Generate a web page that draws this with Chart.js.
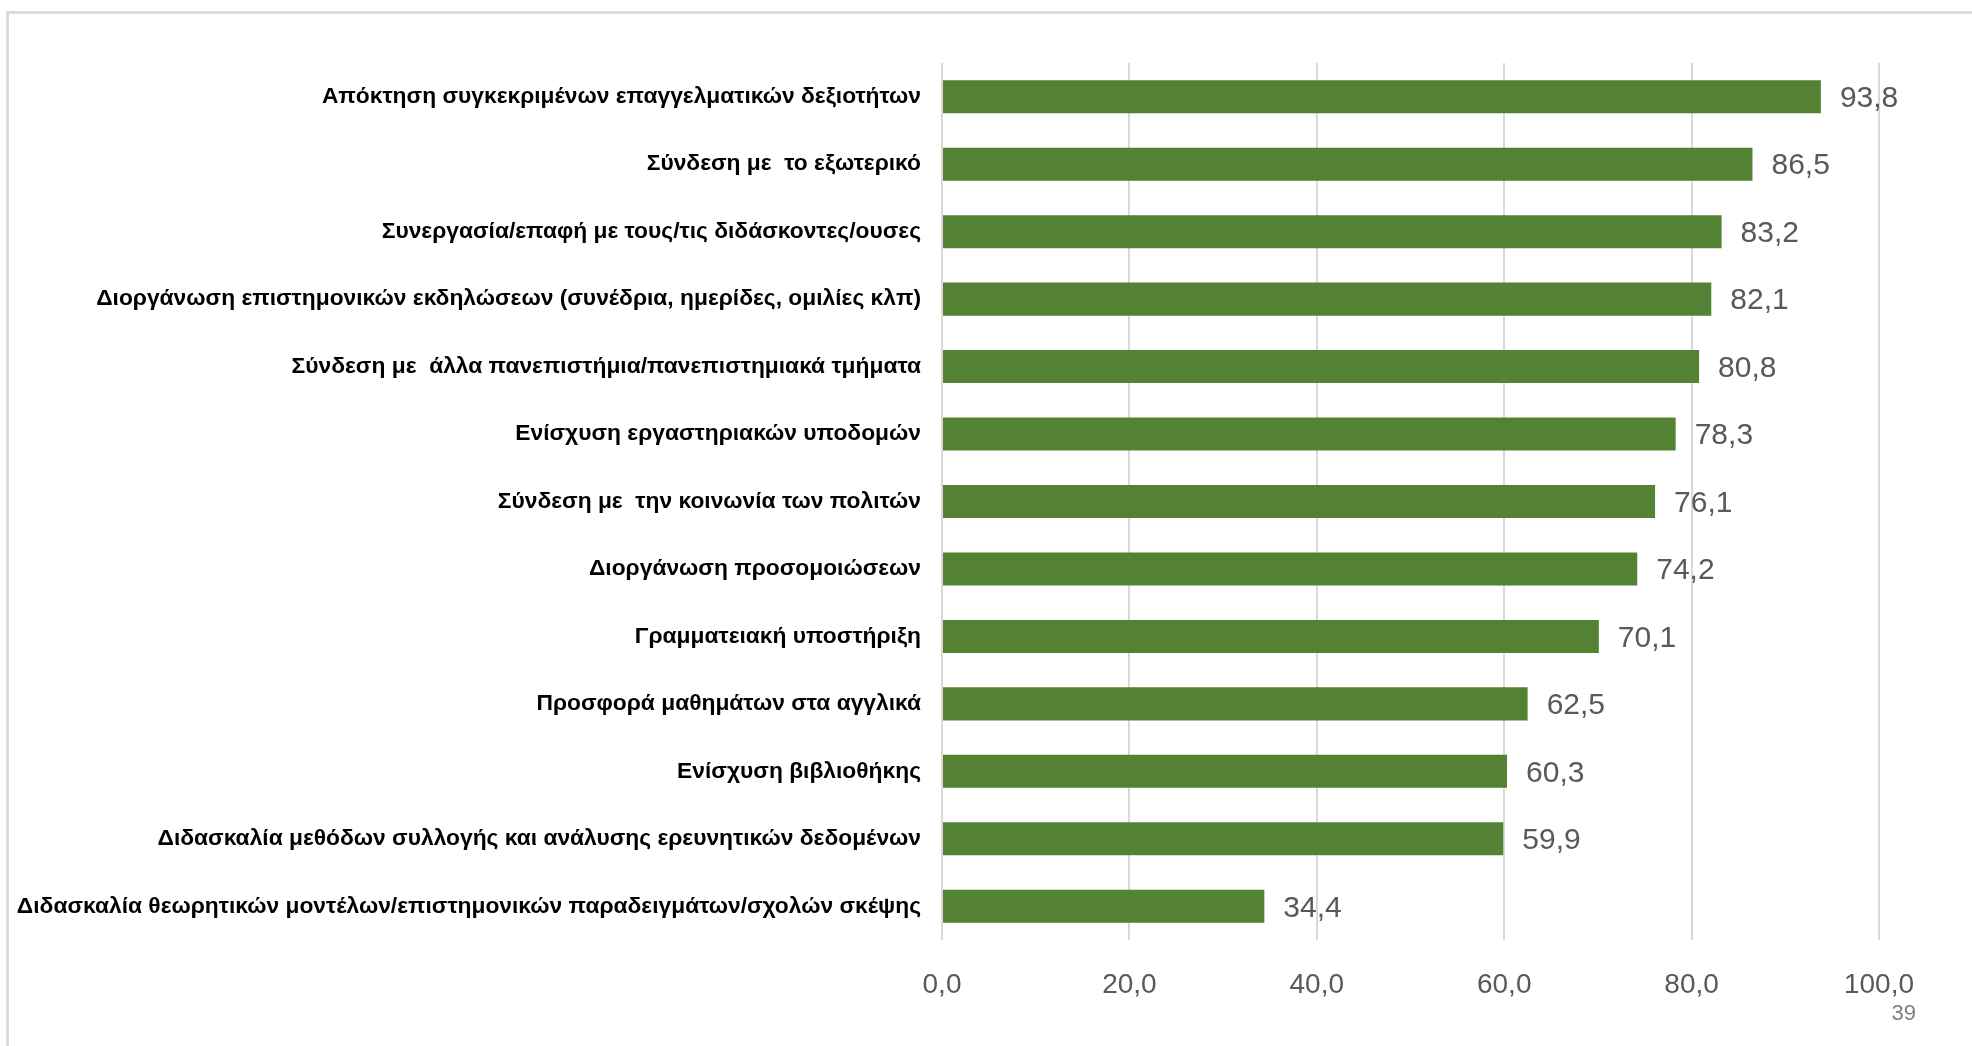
<!DOCTYPE html>
<html>
<head>
<meta charset="utf-8">
<script src="https://cdn.jsdelivr.net/npm/chart.js@4/dist/chart.umd.min.js"></script>
<style>
  body { margin: 0; background: #fff; }
  #wrap { position: relative; width: 1972px; height: 1046px; overflow: hidden; }
  #frame { position: absolute; left: 6px; top: 11px; right: -10px; bottom: -10px;
           border-left: 3px solid #dcdcdc; border-top: 3px solid #dcdcdc; }
  #page { position: absolute; right: 56px; top: 1000px; font: 22px "Liberation Sans", sans-serif; color: #7f7f7f; }
  canvas { position: absolute; left: 0; top: 0; }
</style>
</head>
<body>
<div id="wrap">
  <div id="frame"></div>
  <canvas id="chart" width="1972" height="1046"></canvas>
  <div id="page">39</div>
</div>
<script>
const categories = [
    'Απόκτηση συγκεκριμένων επαγγελματικών δεξιοτήτων',
    'Σύνδεση με  το εξωτερικό',
    'Συνεργασία/επαφή με τους/τις διδάσκοντες/ουσες',
    'Διοργάνωση επιστημονικών εκδηλώσεων (συνέδρια, ημερίδες, ομιλίες κλπ)',
    'Σύνδεση με  άλλα πανεπιστήμια/πανεπιστημιακά τμήματα',
    'Ενίσχυση εργαστηριακών υποδομών',
    'Σύνδεση με  την κοινωνία των πολιτών',
    'Διοργάνωση προσομοιώσεων',
    'Γραμματειακή υποστήριξη',
    'Προσφορά μαθημάτων στα αγγλικά',
    'Ενίσχυση βιβλιοθήκης',
    'Διδασκαλία μεθόδων συλλογής και ανάλυσης ερευνητικών δεδομένων',
    'Διδασκαλία θεωρητικών μοντέλων/επιστημονικών παραδειγμάτων/σχολών σκέψης'
];
const values = [93.8, 86.5, 83.2, 82.1, 80.8, 78.3, 76.1, 74.2, 70.1, 62.5, 60.3, 59.9, 34.4];
const xTicks = [0, 20, 40, 60, 80, 100];

function fmt(v){
    return v.toFixed(1).replace('.', ',');
}

// value labels at the end of each bar
const valueLabels = {
    id: 'valueLabels',
    afterDatasetsDraw(chart){
        let ctx = chart.ctx;
        let meta = chart.getDatasetMeta(0);
        ctx.save();
        ctx.font = '30px "Liberation Sans"';
        ctx.fillStyle = '#595959';
        ctx.textAlign = 'left';
        ctx.textBaseline = 'middle';
        meta.data.forEach((bar, i) => {
            ctx.fillText(fmt(values[i]), bar.x + 19, bar.y + 2);
        });
        ctx.restore();
    }
};

const data = {
    labels: categories,
    datasets: [{
        data: values,
        backgroundColor: '#548235',
        borderWidth: 0,
        barPercentage: 0.49,
        categoryPercentage: 1
    }]
};

const config = {
    type: 'bar',
    data: data,
    options: {
        indexAxis: 'y',
        responsive: false,
        animation: false,
        devicePixelRatio: 1,
        layout: { padding: { left: 0, top: 63, right: 93, bottom: 0 } },
        plugins: {
            legend: { display: false },
            tooltip: { enabled: false }
        },
        scales: {
            x: {
                min: 0,
                max: 100,
                afterBuildTicks: (scale) => { scale.ticks = xTicks.map(v => ({ value: v })); },
                afterFit: (scale) => { scale.height = 106; },
                grid: { color: '#d9d9d9', lineWidth: 2, drawTicks: false },
                border: { display: false },
                ticks: {
                    padding: 28,
                    color: '#595959',
                    font: { family: 'Liberation Sans', size: 28 },
                    callback: (v) => fmt(v)
                }
            },
            y: {
                afterFit: (scale) => { scale.width = 942; },
                grid: { display: false, drawTicks: false },
                border: { display: false },
                ticks: {
                    padding: 21,
                    color: '#000000',
                    autoSkip: false,
                    font: { family: 'Liberation Sans', size: 22.8, weight: 'bold' }
                }
            }
        }
    },
    plugins: [valueLabels]
};

let ctx = document.getElementById('chart').getContext('2d');
new Chart(ctx, config);
</script>
</body>
</html>
